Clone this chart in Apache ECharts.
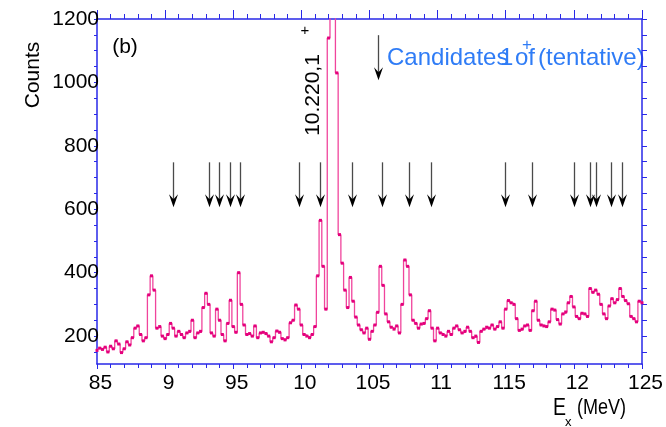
<!DOCTYPE html>
<html><head><meta charset="utf-8">
<script src="https://cdn.jsdelivr.net/npm/echarts@6/dist/echarts.min.js"></script>
<style>html,body{margin:0;padding:0;background:#fff}#c{width:666px;height:427px}</style>
</head><body><div id="c"></div>
<script>
// ---- data ----
const binStart = 8.5;     // MeV, first bin centre
const binWidth = 0.02;    // MeV
const counts = [
  155,162,158,165,150,168,160,185,175,148,
  160,182,172,195,225,232,205,185,195,330,
  390,345,225,230,200,192,205,240,225,200,
  215,205,195,210,215,250,195,210,215,290,
  335,300,210,200,285,250,205,185,240,313,
  230,212,400,300,235,205,208,200,232,195,
  210,212,208,200,182,195,216,212,192,188,
  195,242,250,298,285,235,205,200,195,205,
  230,390,565,420,285,1140,3000,2500,1030,520,
  430,345,290,385,310,260,235,220,210,225,
  190,215,235,275,420,360,270,245,228,222,
  232,210,300,440,420,330,250,240,225,238,
  240,255,280,225,185,225,210,205,200,215,
  205,225,232,220,210,215,228,215,195,200,
  180,215,222,228,225,235,222,230,245,225,
  285,312,305,300,255,218,222,232,235,218,
  280,310,250,235,232,230,245,285,282,252,
  238,270,276,305,325,292,262,255,272,270,
  262,350,338,345,332,300,270,255,295,318,
  305,315,350,325,312,302,262,255,245,310,
  305
];
const candidateArrowsMeV = [9.056, 9.319, 9.399, 9.473, 9.553, 9.984, 10.138, 10.372,
  10.591, 10.789, 10.950, 11.498, 11.696, 12.003, 12.120, 12.164, 12.273, 12.354];
const arrowTop = 748, arrowBottom = 606;
const legendArrow = [10.562, 1149, 1007];
const xTickValues = [8.5, 9, 9.5, 10, 10.5, 11, 11.5, 12, 12.5];
const xTickLabels = ['85', '9', '95', '10', '105', '11', '115', '12', '125'];
const yTickValues = [150,200,250,300,350,400,450,500,550,600,650,700,750,800,850,900,950,1000,1050,1100,1150,1200];
const yLabelValues = [200, 400, 600, 800, 1000, 1200];

// ---- chart ----
const FONT = '"Liberation Sans", Arial, Helvetica, sans-serif';
const AX = '#2828e8';
const spectrum = counts.map((c, i) => [+(binStart + i * binWidth).toFixed(3), c]);
const arrowData = candidateArrowsMeV.map(e => [e, arrowTop, arrowBottom]).concat([legendArrow]);

const chart = echarts.init(document.getElementById('c'), null, {renderer: 'canvas'});
chart.setOption({
  animation: false,
  backgroundColor: '#fff',
  grid: {left: 97, right: 22, top: 19, bottom: 63},
  xAxis: [{
    type: 'value', min: 8.5, max: 12.5, interval: 0.5, position: 'bottom',
    axisLine: {show: true, lineStyle: {color: AX, width: 1.5}},
    axisTick: {show: true, inside: false, length: 5, lineStyle: {color: AX, width: 1}},
    minorTick: {show: true, splitNumber: 5, length: 4, lineStyle: {color: AX, width: 1}},
    splitLine: {show: false},
    axisLabel: {
      show: true, margin: 9, fontSize: 21, color: '#000', fontFamily: FONT, padding: [0, 0, 0, 7],
      formatter: v => { const i = xTickValues.findIndex(t => Math.abs(t - v) < 1e-6); return i >= 0 ? xTickLabels[i] : ''; }
    }
  }, {
    type: 'value', min: 8.5, max: 12.5, interval: 0.5, position: 'top',
    axisLine: {show: true, lineStyle: {color: AX, width: 1.5}},
    axisTick: {show: true, inside: false, length: 9, lineStyle: {color: AX, width: 1}},
    minorTick: {show: true, splitNumber: 5, length: 5, lineStyle: {color: AX, width: 1}},
    splitLine: {show: false}, axisLabel: {show: false}
  }],
  yAxis: [{
    type: 'value', min: 112, max: 1200, position: 'left',
    axisLine: {show: true, lineStyle: {color: AX, width: 1.5}},
    axisTick: {show: true, inside: false, length: 3, customValues: yTickValues, lineStyle: {color: AX, width: 1}},
    splitLine: {show: false},
    axisLabel: {show: true, margin: -2, fontSize: 21, color: '#000', fontFamily: FONT, customValues: yLabelValues,
      formatter: v => String(Math.round(v))}
  }, {
    type: 'value', min: 112, max: 1200, position: 'right',
    axisLine: {show: true, lineStyle: {color: AX, width: 1.5}},
    axisTick: {show: true, inside: false, length: 5, customValues: yTickValues, lineStyle: {color: AX, width: 1}},
    splitLine: {show: false}, axisLabel: {show: false}
  }],
  series: [{
    type: 'line', xAxisIndex: 0, yAxisIndex: 0, data: spectrum, step: 'middle',
    symbol: 'rect', symbolSize: 3, showSymbol: true, showAllSymbol: true, clip: true,
    lineStyle: {color: '#f0449c', width: 1.3},
    itemStyle: {color: '#e4007c'},
    z: 3
  }, {
    type: 'custom', xAxisIndex: 0, yAxisIndex: 0, data: arrowData, clip: false, silent: true, z: 5,
    encode: {x: 0, y: [1, 2]},
    renderItem: function (params, api) {
      const x = api.value(0);
      const p1 = api.coord([x, api.value(1)]);
      const p2 = api.coord([x, api.value(2)]);
      const hx = Math.round(p2[0]) + 0.5, hy = p2[1];
      return {type: 'group', children: [
        {type: 'line', shape: {x1: hx, y1: p1[1], x2: hx, y2: hy - 6}, style: {stroke: '#4a4a4a', lineWidth: 1.3}},
        {type: 'polygon', shape: {points: [[hx, hy], [hx - 4.5, hy - 13], [hx, hy - 8], [hx + 4.5, hy - 13]]}, style: {fill: '#000'}}
      ]};
    }
  }],
  graphic: [
    {type: 'text', x: 33, y: 75, rotation: Math.PI / 2,
     style: {text: 'Counts', x: 0, y: 0, textAlign: 'center', align: 'center', textVerticalAlign: 'middle', verticalAlign: 'middle', fontSize: 21, fontFamily: FONT, fill: '#000'}},
    {type: 'text', x: 125, y: 47,
     style: {text: '(b)', x: 0, y: 0, textAlign: 'center', align: 'center', textVerticalAlign: 'middle', verticalAlign: 'middle', fontSize: 21, fontFamily: FONT, fill: '#000'}},
    {type: 'text', x: 313, y: 95, rotation: Math.PI / 2,
     style: {text: '10.220,1', x: 0, y: 0, textAlign: 'center', align: 'center', textVerticalAlign: 'middle', verticalAlign: 'middle', fontSize: 21, fontFamily: FONT, fill: '#000'}},
    {type: 'text', x: 305, y: 31,
     style: {text: '+', x: 0, y: 0, textAlign: 'center', align: 'center', textVerticalAlign: 'middle', verticalAlign: 'middle', fontSize: 15, fontFamily: FONT, fill: '#000'}},
    {type: 'text', x: 387, y: 58,
     style: {text: 'Candidates', x: 0, y: 0, textAlign: 'left', align: 'left', textVerticalAlign: 'middle', verticalAlign: 'middle', fontSize: 24, fontFamily: FONT, fill: '#2f7cf6'}},
    {type: 'text', x: 500, y: 58,
     style: {text: '1', x: 0, y: 0, textAlign: 'left', align: 'left', textVerticalAlign: 'middle', verticalAlign: 'middle', fontSize: 24, fontFamily: FONT, fill: '#2f7cf6'}},
    {type: 'text', x: 515, y: 58,
     style: {text: 'of', x: 0, y: 0, textAlign: 'left', align: 'left', textVerticalAlign: 'middle', verticalAlign: 'middle', fontSize: 24, fontFamily: FONT, fill: '#2f7cf6'}},
    {type: 'text', x: 538, y: 58,
     style: {text: '(tentative)', x: 0, y: 0, textAlign: 'left', align: 'left', textVerticalAlign: 'middle', verticalAlign: 'middle', fontSize: 24, fontFamily: FONT, fill: '#2f7cf6'}},
    {type: 'text', x: 527, y: 45,
     style: {text: '+', x: 0, y: 0, textAlign: 'center', align: 'center', textVerticalAlign: 'middle', verticalAlign: 'middle', fontSize: 17, fontFamily: FONT, fill: '#2f7cf6'}},
    {type: 'text', x: 553, y: 409, scaleX: 0.85,
     style: {text: 'E', x: 0, y: 0, textAlign: 'left', align: 'left', textVerticalAlign: 'middle', verticalAlign: 'middle', fontSize: 23, fontFamily: FONT, fill: '#000'}},
    {type: 'text', x: 565, y: 422,
     style: {text: 'x', x: 0, y: 0, textAlign: 'left', align: 'left', textVerticalAlign: 'middle', verticalAlign: 'middle', fontSize: 13, fontFamily: FONT, fill: '#000'}},
    {type: 'text', x: 577, y: 408, scaleX: 0.82,
     style: {text: '(MeV)', x: 0, y: 0, textAlign: 'left', align: 'left', textVerticalAlign: 'middle', verticalAlign: 'middle', fontSize: 22, fontFamily: FONT, fill: '#000'}}
  ]
});
</script></body></html>
